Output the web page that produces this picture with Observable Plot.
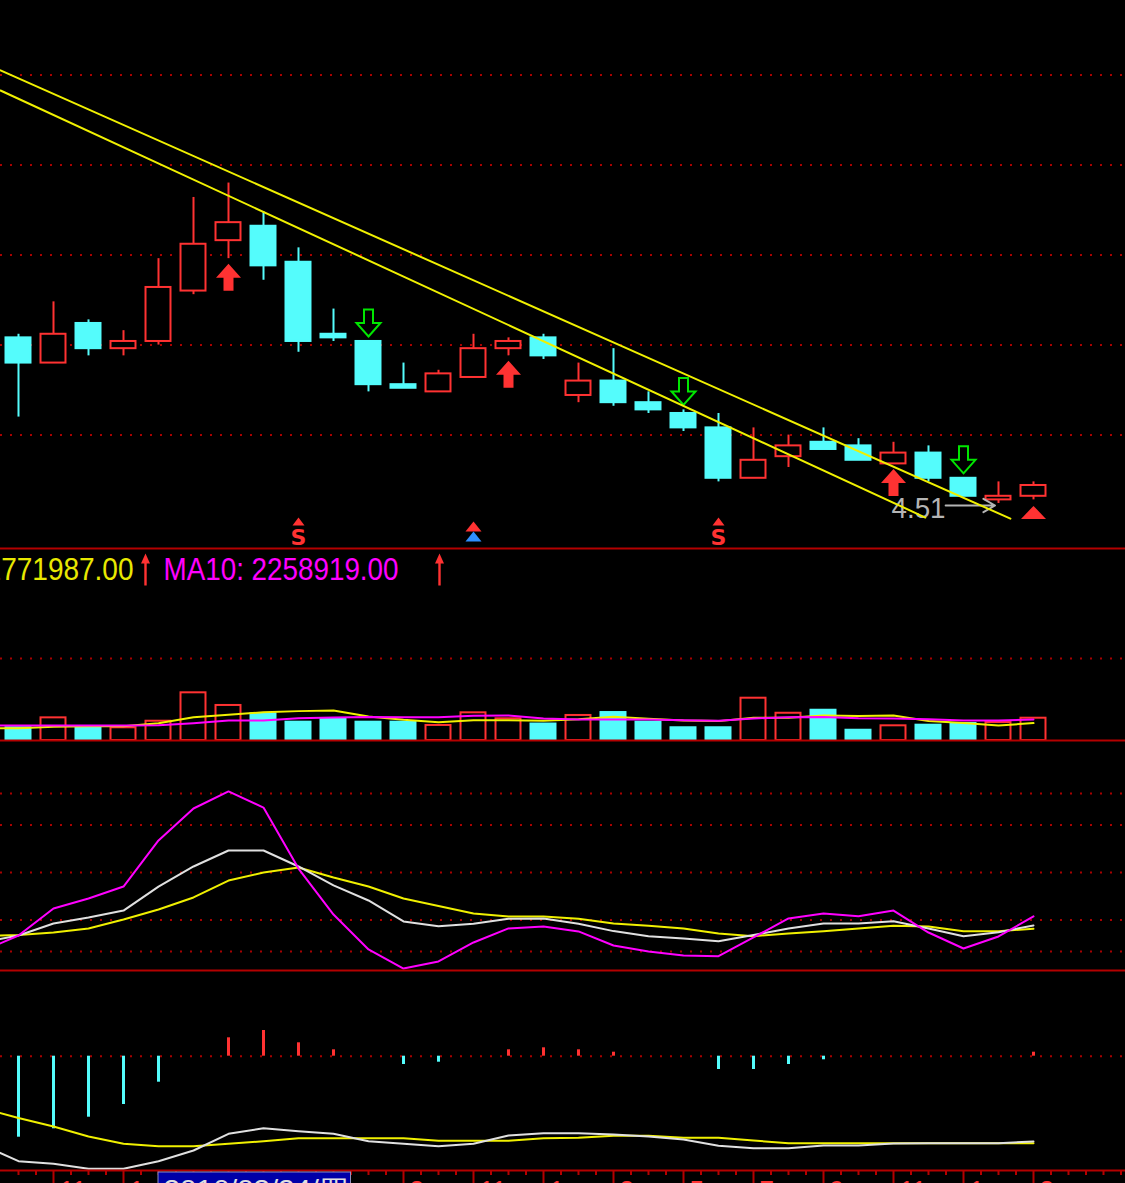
<!DOCTYPE html>
<html><head><meta charset="utf-8">
<script src="https://cdn.jsdelivr.net/npm/d3@7"></script>
<script src="https://cdn.jsdelivr.net/npm/@observablehq/plot@0.6"></script>
<style>
html,body{margin:0;padding:0;background:#000;overflow:hidden;}
#chart{width:1125px;background:#000;}
#chart svg{display:block;}
</style></head><body><div id="chart"></div>
<script>
// ---------- DATA ----------
// candles (index 0 = first visible bar)
const opens  = [4.97,4.90,5.01,4.94,4.96,5.10,5.24,5.28,5.18,4.98,4.96,4.84,4.82,4.86,4.94,4.97,4.81,4.85,4.79,4.76,4.72,4.58,4.64,4.68,4.67,4.62,4.65,4.58,4.52,4.53];
const highs  = [4.98,5.07,5.02,4.99,5.19,5.36,5.40,5.32,5.22,5.05,4.96,4.90,4.88,4.98,4.97,4.98,4.90,4.94,4.82,4.77,4.76,4.72,4.70,4.72,4.69,4.68,4.67,4.58,4.57,4.57];
const lows   = [4.75,4.90,4.92,4.92,4.95,5.09,5.19,5.13,4.93,4.96,4.82,4.83,4.82,4.86,4.92,4.91,4.79,4.78,4.76,4.71,4.57,4.58,4.61,4.66,4.63,4.62,4.57,4.53,4.51,4.52];
const closes = [4.90,4.98,4.94,4.96,5.11,5.23,5.29,5.17,4.96,4.97,4.84,4.83,4.87,4.94,4.96,4.92,4.85,4.79,4.77,4.72,4.58,4.63,4.67,4.66,4.63,4.65,4.58,4.53,4.53,4.56];
const priceGrid = [4.70, 4.95, 5.20, 5.45, 5.70];

// drawn trend lines (bar index, price)
const trendUpper = [{i: -0.514, p: 5.713}, {i: 28.34, p: 4.468}];
const trendLower = [{i: -0.514, p: 5.657}, {i: 25.91, p: 4.471}];

// signals (bar indexes)
const buyArrows  = [6, 14, 25];
const sellArrows = [10, 19, 27];
const lastTriangle = [29];
const sMarks = [8, 20];
const chevronMarks = [13];
const lowLabel = [{i: 28, p: 4.51}];

// volume (millions) per bar
const volumes = [1.44,2.56,1.51,1.44,2.18,5.39,3.96,3.02,2.07,2.45,2.07,2.07,1.70,3.13,2.45,1.86,2.83,3.16,2.07,1.44,1.44,4.78,3.08,3.42,1.16,1.66,1.73,1.92,2.03,2.52];
// indicator series start one bar earlier (index -1 = bar just left of the view)
const volMA5  = [1.39,1.39,1.55,1.60,1.62,1.95,2.62,2.90,3.20,3.32,3.38,2.71,2.34,2.07,2.28,2.28,2.24,2.39,2.69,2.47,2.27,2.19,2.58,2.56,2.83,2.78,2.82,2.21,1.98,1.70,1.97];
const volMA10 = [1.70,1.70,1.70,1.70,1.70,1.72,1.96,2.26,2.26,2.52,2.60,2.67,2.62,2.64,2.80,2.83,2.48,2.37,2.38,2.38,2.28,2.22,2.49,2.62,2.65,2.52,2.50,2.39,2.27,2.27,2.37];
const volGrid = [9.27];
const volHeader = ["MA5: 1771987.00", "MA10: 2258919.00"];

// KDJ
const kdjK = [6.0,10.1,17.7,21.5,25.9,41.1,53.8,63.9,63.9,53.8,41.8,32.3,19.0,16.0,17.5,20.7,20.9,17.5,12.9,9.7,8.2,6.5,10.4,14.6,17.7,17.7,19.2,14.6,9.7,12.2,16.5];
const kdjD = [9.8,10.4,12.0,14.6,20.3,26.6,34.2,44.9,50.0,53.2,46.8,41.1,33.5,28.8,24.1,22.2,22.2,20.7,17.7,16.3,14.6,11.4,9.7,11.4,12.8,14.6,16.3,15.8,12.8,12.8,14.4];
const kdjJ = [0.6,10.1,27.2,33.5,41.1,70.3,90.5,101.3,91.1,52.5,23.4,1.3,-10.8,-6.3,5.7,14.6,15.8,12.7,3.8,0,-2.5,-3.0,8.9,20.9,24.1,22.3,25.9,12.0,1.9,9.5,22.2];
const kdjGrid = [0, 20, 50, 80, 100];

// MACD
const macdDIF = [-0.0893,-0.105,-0.1076,-0.1126,-0.1126,-0.105,-0.0943,-0.0776,-0.072,-0.075,-0.0776,-0.085,-0.0876,-0.09,-0.0876,-0.0793,-0.077,-0.077,-0.0783,-0.0803,-0.0833,-0.0896,-0.092,-0.092,-0.0893,-0.0893,-0.0873,-0.087,-0.087,-0.087,-0.0853];
const macdDEA = [-0.0523,-0.0618,-0.0703,-0.0803,-0.0876,-0.09,-0.09,-0.0876,-0.085,-0.082,-0.082,-0.082,-0.082,-0.0846,-0.0846,-0.0846,-0.082,-0.0816,-0.0796,-0.0796,-0.0816,-0.0816,-0.0843,-0.087,-0.087,-0.087,-0.087,-0.087,-0.087,-0.087,-0.087];
const macdHist = [-0.081,-0.0726,-0.061,-0.0483,-0.026,0,0.0184,0.0257,0.0134,0.0064,0,-0.0083,-0.006,0,0.0064,0.0084,0.0064,0.004,0,0,-0.0133,-0.0133,-0.0083,-0.0036,0,0,0,0,0,0.004];

// date axis
const axisMajors = [1,3,5,7,9,11,13,15,17,19,21,23,25,27,29];
const axisLabels = ["11","1","16","18","22","3","11","1","3","5","7","9","11","1","3"];
const cursorBox = [{i: 4, label: "2016/03/24/四"}];

// ---------- STYLE ----------
const RED = "#ff3232", CYAN = "#54fcfc", YELLOW = "#f0f000", MAGENTA = "#ff00ff",
      WHITE = "#e0e0e0", GREEN = "#00e600", GRID = "#a80000", PANEL = "#b40000",
      GRAY = "#b4b4b4", BLUEBOX = "#0000a8";
const W = 1125, FIRST_CENTER = 18, STEP = 35, BODY = 0.357, BOX_SPAN = 5.5;
const xDomain = [(0 - FIRST_CENTER) / STEP, (W - FIRST_CENTER) / STEP];
const dotted = {stroke: GRID, strokeWidth: 2, strokeDasharray: "2 8"};

const UP_ARROW = {draw(c){c.moveTo(0,-13.5);c.lineTo(12.5,0.5);c.lineTo(5,0.5);c.lineTo(5,13.5);c.lineTo(-5,13.5);c.lineTo(-5,0.5);c.lineTo(-12.5,0.5);c.closePath();}};
const DOWN_ARROW = {draw(c){c.moveTo(0,13.5);c.lineTo(12,0);c.lineTo(4.5,0);c.lineTo(4.5,-13.5);c.lineTo(-4.5,-13.5);c.lineTo(-4.5,0);c.lineTo(-12,0);c.closePath();}};
const TRIANGLE = {draw(c){c.moveTo(0,-6.5);c.lineTo(12.5,6.5);c.lineTo(-12.5,6.5);c.closePath();}};
const SMALL_TRI = {draw(c){c.moveTo(0,-4);c.lineTo(6,4);c.lineTo(-6,4);c.closePath();}};
const CHEV = {draw(c){c.moveTo(0,-5);c.lineTo(8,5);c.lineTo(-8,5);c.closePath();}};
const THIN_ARROW = {draw(c){c.moveTo(0,-16);c.lineTo(4.5,-6);c.lineTo(1.2,-6);c.lineTo(1.2,16);c.lineTo(-1.2,16);c.lineTo(-1.2,-6);c.lineTo(-4.5,-6);c.closePath();}};

// ---------- BUILD ----------
const candles = opens.map((o, i) => ({i, o, h: highs[i], l: lows[i], c: closes[i], v: volumes[i], up: closes[i] >= o}));
const colorOf = d => d.up ? RED : CYAN;
const byIdx = idx => idx.map(i => candles[i]);
const indRows = volMA5.map((_, k) => ({i: k - 1, ma5: volMA5[k], ma10: volMA10[k], k: kdjK[k], d: kdjD[k], j: kdjJ[k], dif: macdDIF[k], dea: macdDEA[k]}));
const histRows = macdHist.map((m, i) => ({i, m})).filter(d => d.m !== 0);

function panel(height, yDomain, marks) {
  return Plot.plot({
    width: W, height, margin: 0,
    x: {domain: xDomain, axis: null},
    y: {domain: yDomain, axis: null},
    color: {type: "identity"},
    style: {background: "transparent", overflow: "visible"},
    marks
  });
}

const mainPlot = panel(548, [4.385, 5.907], [
  Plot.ruleY(priceGrid, dotted),
  Plot.ruleX(candles, {x: "i", y1: d => Math.max(d.o, d.c), y2: "h", stroke: colorOf, strokeWidth: 2}),
  Plot.ruleX(candles, {x: "i", y1: d => Math.min(d.o, d.c), y2: "l", stroke: colorOf, strokeWidth: 2}),
  Plot.rect(candles, {x1: d => d.i - BODY, x2: d => d.i + BODY, y1: "o", y2: "c", fill: d => d.up ? "#000" : CYAN, stroke: colorOf, strokeWidth: 2}),
  Plot.dot(byIdx(buyArrows), {x: "i", y: "l", dy: 18.5, symbol: UP_ARROW, fill: RED, stroke: "none"}),
  Plot.dot(byIdx(sellArrows), {x: "i", y: "h", dy: -18.5, symbol: DOWN_ARROW, fill: "#000", stroke: GREEN, strokeWidth: 2}),
  Plot.dot(byIdx(lastTriangle), {x: "i", y: "l", dy: 12.5, symbol: TRIANGLE, fill: RED, stroke: "none"}),
  Plot.dot(sMarks, {x: d => d, frameAnchor: "bottom", dy: -27, symbol: SMALL_TRI, fill: RED, stroke: "none"}),
  Plot.text(sMarks, {x: d => d, frameAnchor: "bottom", dy: -4, text: () => "S", fill: RED, fontSize: 22, fontWeight: "bold", fontFamily: "DejaVu Sans"}),
  Plot.dot(chevronMarks, {x: d => d, frameAnchor: "bottom", dy: -22, symbol: CHEV, fill: RED, stroke: "none"}),
  Plot.dot(chevronMarks, {x: d => d, frameAnchor: "bottom", dy: -12, symbol: CHEV, fill: "#2f8fff", stroke: "none"}),
  Plot.text(lowLabel, {x: "i", y: "p", text: d => d.p.toFixed(2), textAnchor: "end", dx: -53, dy: 5, fill: GRAY, fontSize: 29, fontFamily: "Liberation Sans"}),
  Plot.arrow(lowLabel, {x1: d => d.i - 1.51, x2: d => d.i - 0.1, y1: "p", y2: "p", dy: 2, stroke: GRAY, strokeWidth: 2, headLength: 10}),
  Plot.line(trendUpper, {x: "i", y: "p", stroke: YELLOW, strokeWidth: 2}),
  Plot.line(trendLower, {x: "i", y: "p", stroke: YELLOW, strokeWidth: 2})
]);

const headerFont = {fontSize: 32, fontFamily: "Liberation Sans", frameAnchor: "top-left", lineAnchor: "top", dy: 9};
const headerArrow = {frameAnchor: "top-left", dy: 21, symbol: THIN_ARROW, fill: RED, stroke: "none"};
const volPlot = panel(192, [0, 21.7], [
  Plot.ruleY(volGrid, dotted),
  Plot.rect(candles, {x1: d => d.i - BODY, x2: d => d.i + BODY, y1: 0, y2: "v", fill: d => d.up ? "#000" : CYAN, stroke: colorOf, strokeWidth: 2}),
  Plot.line(indRows, {x: "i", y: "ma5", stroke: YELLOW, strokeWidth: 2}),
  Plot.line(indRows, {x: "i", y: "ma10", stroke: MAGENTA, strokeWidth: 2}),
  Plot.ruleY([21.7, 0], {stroke: PANEL, strokeWidth: 2}),
  Plot.text([volHeader[0]], {...headerFont, dx: 133, text: d => d, textAnchor: "end", fill: "#e8e800"}),
  Plot.dot([0], {...headerArrow, dx: 145}),
  Plot.text([volHeader[1]], {...headerFont, dx: 163, text: d => d, textAnchor: "start", fill: MAGENTA}),
  Plot.dot([0], {...headerArrow, dx: 439})
]);

const kdjPlot = panel(230, [-12.03, 133.54], [
  Plot.ruleY(kdjGrid, dotted),
  Plot.line(indRows, {x: "i", y: "d", stroke: YELLOW, strokeWidth: 2}),
  Plot.line(indRows, {x: "i", y: "k", stroke: WHITE, strokeWidth: 2}),
  Plot.line(indRows, {x: "i", y: "j", stroke: MAGENTA, strokeWidth: 2}),
  Plot.ruleY([-12.03], {stroke: PANEL, strokeWidth: 2})
]);

const AXIS_V = -0.1143, MACD_MIN = -0.1273;
const minorTicks = d3.range(0, 32, 0.5).filter(t => !axisMajors.includes(t));
const boxI = cursorBox[0].i;
const labelRows = axisMajors.map((i, k) => ({i, label: axisLabels[k]}))
  .filter(d => d.i < boxI || d.i > boxI + BOX_SPAN);
const macdPlot = panel(213, [MACD_MIN, 0.0857], [
  Plot.ruleY([0], dotted),
  Plot.ruleX(histRows, {x: "i", y1: 0, y2: "m", stroke: d => d.m > 0 ? RED : CYAN, strokeWidth: 3}),
  Plot.line(indRows, {x: "i", y: "dea", stroke: YELLOW, strokeWidth: 2}),
  Plot.line(indRows, {x: "i", y: "dif", stroke: WHITE, strokeWidth: 2}),
  Plot.ruleY([AXIS_V], {stroke: PANEL, strokeWidth: 2}),
  Plot.ruleX(minorTicks, {x: d => d, y1: AXIS_V, y2: AXIS_V - 0.005, stroke: PANEL, strokeWidth: 2}),
  Plot.ruleX(axisMajors, {x: d => d, y1: AXIS_V, y2: MACD_MIN - 0.01, stroke: PANEL, strokeWidth: 2}),
  Plot.text(labelRows, {x: "i", y: AXIS_V, dx: 6, dy: 10, text: "label", textAnchor: "start", lineAnchor: "top", fill: RED, fontSize: 26, fontFamily: "Liberation Sans"}),
  Plot.rect(cursorBox, {x1: "i", x2: d => d.i + BOX_SPAN, y1: AXIS_V - 0.002, y2: MACD_MIN - 0.02, fill: BLUEBOX, stroke: "#9090c0", strokeWidth: 1}),
  Plot.text(cursorBox, {x: "i", y: AXIS_V, dx: 5, dy: 9, text: "label", textAnchor: "start", lineAnchor: "top", fill: "#e0e0e0", fontSize: 26, fontFamily: "Liberation Sans"})
]);

// compress bitmap-style texts to the widths seen in the picture
const fitWidths = {"MA5: 1771987.00": 221, "MA10: 2258919.00": 235, "4.51": 54, "2016/03/24/四": 185};
for (const svg of [mainPlot, volPlot, macdPlot]) {
  svg.querySelectorAll("text").forEach(t => {
    const L = fitWidths[t.textContent];
    if (L) { t.setAttribute("textLength", L); t.setAttribute("lengthAdjust", "spacingAndGlyphs"); }
  });
}

document.getElementById("chart").append(mainPlot, volPlot, kdjPlot, macdPlot);
</script></body></html>
